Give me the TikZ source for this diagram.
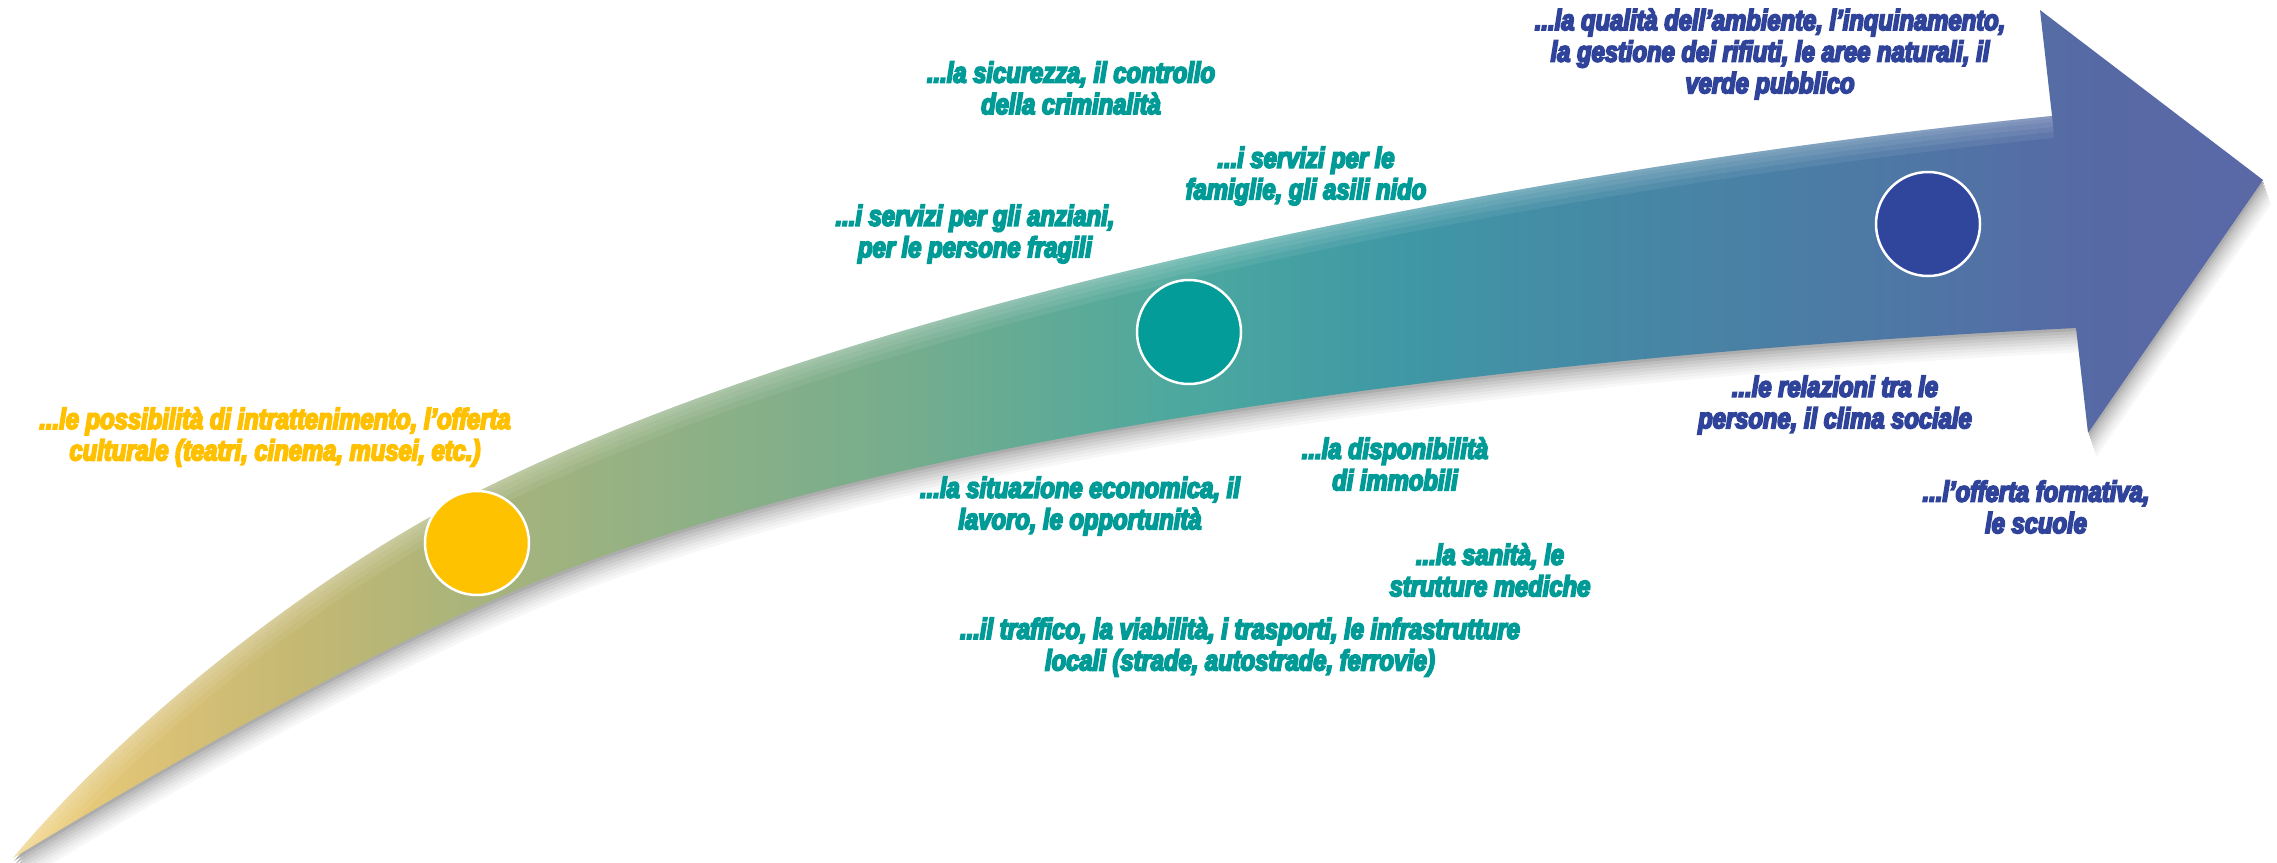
\documentclass[tikz,border=0pt]{standalone}
\usepackage{fontspec}
\newfontfamily\lblfont{Liberation Sans}[FakeStretch=0.82, FakeBold=6]

\definecolor{cyel}{HTML}{FFC000}
\definecolor{cteal}{HTML}{009B96}
\definecolor{cblue}{HTML}{2E4399}
\definecolor{cyelcirc}{HTML}{FFC200}
\definecolor{ctealcirc}{HTML}{039C98}
\definecolor{cbluecirc}{HTML}{30469C}

\definecolor{sa}{HTML}{F2D37E}
\definecolor{sb}{HTML}{DCC276}
\definecolor{sc}{HTML}{C4B873}
\definecolor{sd}{HTML}{A8B47B}
\definecolor{se}{HTML}{8DB086}
\definecolor{sf}{HTML}{76AD8D}
\definecolor{sg}{HTML}{4BA89F}
\definecolor{sh}{HTML}{3F98A5}
\definecolor{si}{HTML}{4589A5}
\definecolor{sj}{HTML}{4E77A5}
\definecolor{sk}{HTML}{5769A5}
\definecolor{sl}{HTML}{5A68A6}

\pgfdeclarehorizontalshading{arrowshade}{100bp}{color(0bp)=(sa); color(25bp)=(sa); color(28bp)=(sb); color(31.4bp)=(sc); color(35.3bp)=(sd); color(40.3bp)=(se); color(44.7bp)=(sf); color(51.2bp)=(sg); color(55.8bp)=(sh); color(60.3bp)=(si); color(66.9bp)=(sj); color(71.4bp)=(sk); color(75bp)=(sl); color(100bp)=(sl)}

\tikzset{
  upperedge/.style={insert path={(13,858) .. controls (133,714) and (327,567) .. (477,492)
    .. controls (877,292) and (1552,166) .. (2052,116)}},
  arrowoutline/.style={insert path={(13,858) .. controls (133,714) and (327,567) .. (477,492)
    .. controls (877,292) and (1552,166) .. (2052,116)
    -- (2040,10) -- (2263,180) -- (2088,433) -- (2076,328)
    .. controls (1626,350) and (1000,413) .. (600,557)
    .. controls (420,622) and (200,745) .. (13,858) -- cycle}},
  dot/.style={circle, minimum size=104pt, inner sep=0pt, draw=white, line width=2.5pt},
  lbl/.style={font=\lblfont\bfseries\itshape\fontsize{29}{31.5}\selectfont, align=center, inner sep=0pt},
  glow/.style={white, opacity=0.07}
}

\begin{document}
\begin{tikzpicture}[x=1pt,y=-1pt]
\useasboundingbox (0,0) rectangle (2277,862);

% soft drop shadow: offset copies, lightest and farthest first
\foreach \s/\g in {24/3,21/6,18/9,15/13,12/17,9/21,6/26,3/32} {
  \begin{scope}[xshift=0.35*\s pt, yshift=-\s pt]
    \fill[black!\g, arrowoutline];
  \end{scope}
}

% arrow body
\shade[shading=arrowshade, arrowoutline];

% soft light highlight along the upper edge
\begin{scope}
  \clip[arrowoutline];
  \draw[glow, line width=44pt, upperedge];
  \draw[glow, line width=32pt, upperedge];
  \draw[glow, line width=22pt, upperedge];
  \draw[glow, line width=12pt, upperedge];
  \draw[glow, line width=5pt, upperedge];
\end{scope}

% circles
\node[dot, fill=cyelcirc] (c1) at (477,543) {};
\node[dot, fill=ctealcirc] (c2) at (1189,332) {};
\node[dot, fill=cbluecirc] (c3) at (1928,224) {};

% labels
\node[lbl, text=cyel] (t1) at (275,437) {...le possibilità di intrattenimento, l’offerta\\culturale (teatri, cinema, musei, etc.)};

\node[lbl, text=cteal] (t2) at (1071,88) {...la sicurezza, il controllo\\della criminalità};
\node[lbl, text=cteal] (t3) at (1306,176) {...i servizi per le\\famiglie, gli asili nido};
\node[lbl, text=cteal] (t4) at (975,234) {...i servizi per gli anziani,\\per le persone fragili};
\node[lbl, text=cteal] (t5) at (1080,506) {...la situazione economica, il\\lavoro, le opportunità};
\node[lbl, text=cteal] (t6) at (1395,464) {...la disponibilità\\di immobili};
\node[lbl, text=cteal] (t7) at (1490,570) {...la sanità, le\\strutture mediche};
\node[lbl, text=cteal] (t8) at (1240,647) {...il traffico, la viabilità, i trasporti, le infrastrutture\\locali (strade, autostrade, ferrovie)};

\node[lbl, text=cblue] (t9) at (1770,54) {...la qualità dell’ambiente, l’inquinamento,\\la gestione dei rifiuti, le aree naturali, il\\verde pubblico};
\node[lbl, text=cblue] (t10) at (1835,405) {...le relazioni tra le\\persone, il clima sociale};
\node[lbl, text=cblue] (t11) at (2036,507) {...l’offerta formativa,\\le scuole};
\end{tikzpicture}
\end{document}
